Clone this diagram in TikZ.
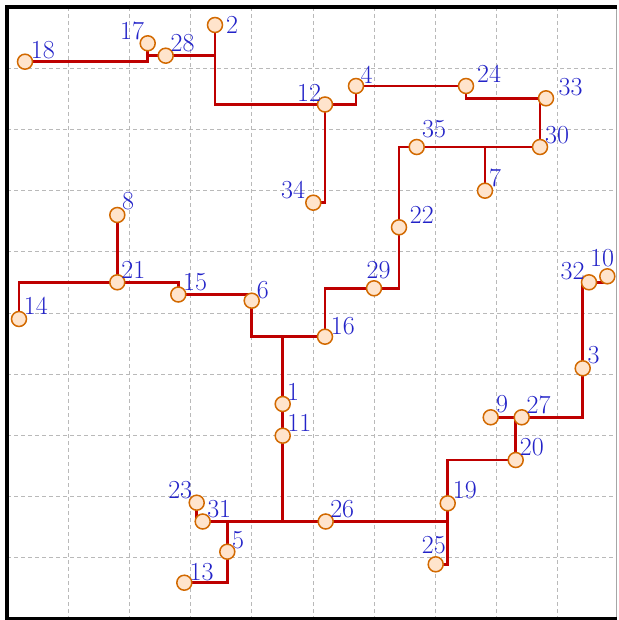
\documentclass[tikz,border=0pt]{standalone}
\definecolor{wirered}{RGB}{190,0,0}
\definecolor{vfill}{RGB}{255,228,204}
\definecolor{vdraw}{RGB}{210,105,0}
\definecolor{lblblue}{RGB}{35,35,200}
\definecolor{gridgray}{RGB}{185,185,185}
\pgfdeclarelayer{background}
\pgfsetlayers{background,main}
\begin{document}
\begin{tikzpicture}[x=1pt,y=-1pt,
  vtx/.style={circle,draw=vdraw,fill=vfill,line width=1.5pt,minimum size=15pt,inner sep=0pt},
  lbl/.style={text=lblblue,inner sep=0pt,font=\fontsize{26}{30}\selectfont},
  wire/.style={draw=wirered,line width=2.8pt},
  gridline/.style={draw=gridgray,line width=1pt,dash pattern=on 4pt off 3pt},
  frame/.style={draw=black,line width=4pt},
  edgeline/.style={draw=gray!70,line width=1pt}]
\useasboundingbox (0,0) rectangle (618,620);
% vertices
\node[vtx] (n18) at (25,61.7) {};
\node[vtx] (n17) at (147.7,43.3) {};
\node[vtx] (n28) at (165.7,55.7) {};
\node[vtx] (n2) at (215,25) {};
\node[vtx] (n12) at (325,104.5) {};
\node[vtx] (n4) at (356,86) {};
\node[vtx] (n24) at (466,86) {};
\node[vtx] (n33) at (546,98.3) {};
\node[vtx] (n30) at (540,147) {};
\node[vtx] (n35) at (416.7,147) {};
\node[vtx] (n7) at (485,190.7) {};
\node[vtx] (n34) at (313.3,202.7) {};
\node[vtx] (n22) at (399,227.3) {};
\node[vtx] (n29) at (374,288.3) {};
\node[vtx] (n16) at (325,336.7) {};
\node[vtx] (n32) at (589,282.3) {};
\node[vtx] (n10) at (607.3,276.3) {};
\node[vtx] (n3) at (582.7,368.3) {};
\node[vtx] (n8) at (117.3,215) {};
\node[vtx] (n21) at (117.3,282.3) {};
\node[vtx] (n15) at (178.3,294.5) {};
\node[vtx] (n6) at (251.7,300.7) {};
\node[vtx] (n14) at (19,319) {};
\node[vtx] (n1) at (282.7,404) {};
\node[vtx] (n11) at (282.7,435.7) {};
\node[vtx] (n9) at (490.7,417.3) {};
\node[vtx] (n27) at (521.7,417.3) {};
\node[vtx] (n20) at (515.7,460) {};
\node[vtx] (n19) at (447.7,503.3) {};
\node[vtx] (n26) at (325.7,521.5) {};
\node[vtx] (n25) at (435.7,564.3) {};
\node[vtx] (n23) at (196.7,502.7) {};
\node[vtx] (n31) at (202.7,521.5) {};
\node[vtx] (n5) at (227.3,551.7) {};
\node[vtx] (n13) at (184.3,582.7) {};
% labels
\node[lbl] (l18) at (42.8,50) {18};
\node[lbl] (l17) at (132,30.5) {17};
\node[lbl] (l28) at (182.5,43.3) {28};
\node[lbl] (l2) at (232,24.5) {2};
\node[lbl] (l12) at (309,92.5) {12};
\node[lbl] (l34) at (293,190) {34};
\node[lbl] (l8) at (128,201) {8};
\node[lbl] (l4) at (366.7,74.5) {4};
\node[lbl] (l24) at (489,73.7) {24};
\node[lbl] (l33) at (570.5,86.7) {33};
\node[lbl] (l30) at (557,135.3) {30};
\node[lbl] (l35) at (434,128.7) {35};
\node[lbl] (l7) at (495,177.5) {7};
\node[lbl] (l22) at (421.8,215.3) {22};
\node[lbl] (l21) at (133.3,270.3) {21};
\node[lbl] (l15) at (195,281.7) {15};
\node[lbl] (l6) at (262.8,290) {6};
\node[lbl] (l14) at (35.8,306) {14};
\node[lbl] (l1) at (293,391.7) {1};
\node[lbl] (l29) at (378.5,270) {29};
\node[lbl] (l16) at (342.8,325.7) {16};
\node[lbl] (l32) at (572.5,270.7) {32};
\node[lbl] (l10) at (602,257.7) {10};
\node[lbl] (l3) at (593.7,355.3) {3};
\node[lbl] (l9) at (502,404.5) {9};
\node[lbl] (l27) at (538.5,404.5) {27};
\node[lbl] (l20) at (531.8,447.5) {20};
\node[lbl] (l19) at (464.8,490.5) {19};
\node[lbl] (l26) at (342.2,508.7) {26};
\node[lbl] (l25) at (433.8,545.3) {25};
\node[lbl] (l11) at (299.3,423.3) {11};
\node[lbl] (l23) at (180.2,490.5) {23};
\node[lbl] (l31) at (219.2,508.7) {31};
\node[lbl] (l5) at (238,540) {5};
\node[lbl] (l13) at (201.5,571.7) {13};
\begin{pgfonlayer}{background}
\foreach \k in {1,...,9}{
  \draw[gridline] ({7+61.2*\k},7) -- ({7+61.2*\k},619);
  \draw[gridline] (7,{7+61.2*\k}) -- (616.5,{7+61.2*\k});
}
\path[wire] (n18.center) -| (n17.center);
\path[wire] (n28.center) -| (n17.center);
\path[wire] (n28.center) -| (n2.center);
\path[wire] (n2.center) |- (n12.center);
\path[wire] (n12.center) -| (n4.center);
\path[wire] (n4.center) -- (n24.center);
\path[wire] (n24.center) |- (n33.center);
\path[wire] (n30.center) |- (n33.center);
\path[wire] (n35.center) -- (n30.center);
\path[wire] (n7.center) |- (n30.center);
\path[wire] (n22.center) |- (n35.center);
\path[wire] (n22.center) |- (n29.center);
\path[wire] (n16.center) |- (n29.center);
\path[wire] (n12.center) |- (n34.center);
\path[wire] (n6.center) |- (n16.center);
\path[wire] (n15.center) -| (n6.center);
\path[wire] (n21.center) -| (n15.center);
\path[wire] (n21.center) -| (n14.center);
\path[wire] (n8.center) -- (n21.center);
\path[wire] (n1.center) |- (n16.center);
\path[wire] (n1.center) -- (n11.center);
\path[wire] (n11.center) |- (n26.center);
\path[wire] (n31.center) -- (n26.center);
\path[wire] (n26.center) -| (n19.center);
\path[wire] (n19.center) |- (n20.center);
\path[wire] (n19.center) |- (n25.center);
\path[wire] (n20.center) |- (n27.center);
\path[wire] (n9.center) -- (n27.center);
\path[wire] (n27.center) -| (n3.center);
\path[wire] (n3.center) |- (n32.center);
\path[wire] (n32.center) -| (n10.center);
\path[wire] (n23.center) |- (n31.center);
\path[wire] (n31.center) -| (n5.center);
\path[wire] (n5.center) |- (n13.center);
\end{pgfonlayer}
\draw[edgeline] (616.5,7) -- (616.5,619);
\draw[frame] (617,7) -- (7,7) -- (7,619) -- (617,619);
\end{tikzpicture}
\end{document}
